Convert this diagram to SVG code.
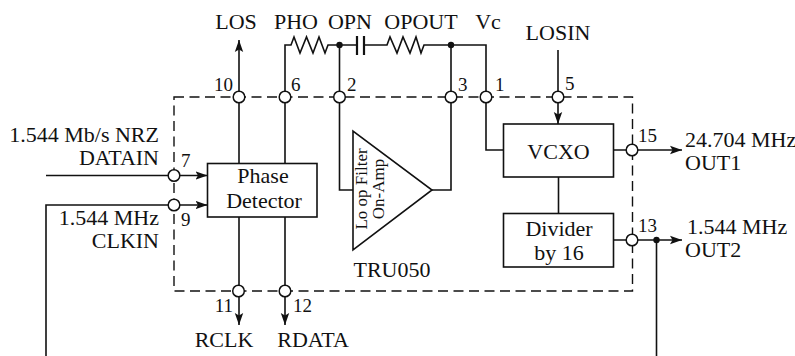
<svg xmlns="http://www.w3.org/2000/svg" width="795" height="356" viewBox="0 0 795 356">
<style>
text{font-family:"Liberation Serif","Times New Roman",serif;font-size:22px;fill:#111}
.n{font-size:19px}
.o{font-size:17px}
.e{text-anchor:end}.m{text-anchor:middle}
.w{fill:none;stroke:#111;stroke-width:1.6}
.b{fill:#fff;stroke:#111;stroke-width:1.6}
.p{fill:#fff;stroke:#111;stroke-width:1.5}
.d{fill:none;stroke:#111;stroke-width:1.4;stroke-dasharray:10 5.500}
.j{fill:#111}
</style>
<defs>
<marker id="a" markerUnits="userSpaceOnUse" markerWidth="12" markerHeight="10" refX="12" refY="5" orient="auto"><path d="M0 0.800L12 5L0 9.200L2.500 5Z" fill="#111"/></marker>
</defs>
<rect id="boundary" class="d" x="174" y="97" width="458.500" height="194"/>
<g id="connectors">
<path class="w" d="M239 97V40" marker-end="url(#a)"/>
<path class="w" d="M239 97V163.500M285 97V163.500M239 217V291M285 217V291"/>
<path class="w" d="M239 291V325" marker-end="url(#a)"/>
<path class="w" d="M285 291V325" marker-end="url(#a)"/>
<path class="w" d="M285 97V45H291L294 37L300 53L306.500 37L313 53L319 37L325 53L328 45H356.500M364.500 45H387L390 37L397 53L403 37L410 53L416 37L421 53L424 45H486V150H503.500"/>
<path class="w" d="M339.500 45V190H353M451 45V190H432"/>
<path class="w" d="M357 36V55M364 36V55" style="stroke-width:2.200"/>
<path class="w" d="M558 50V124" marker-end="url(#a)"/>
<path class="w" d="M46 175.500H207.500" marker-end="url(#a)"/>
<path class="w" d="M46 356V205H207.500" marker-end="url(#a)"/>
<path class="w" d="M613.500 150H682" marker-end="url(#a)"/>
<path class="w" d="M558.500 177V213.500"/>
<path class="w" d="M613.500 240H682" marker-end="url(#a)"/>
<path class="w" d="M656.500 240V356"/>
<circle class="j" cx="339.500" cy="45" r="3.200"/>
<circle class="j" cx="451" cy="45" r="3.200"/>
<circle class="j" cx="656.500" cy="240" r="3.200"/>
</g>
<g id="pin10"><circle class="p" cx="239" cy="97" r="5.800"/><text class="n e" x="233" y="91">10</text></g>
<g id="pin6"><circle class="p" cx="285" cy="97" r="5.800"/><text class="n" x="291" y="91">6</text></g>
<g id="pin2"><circle class="p" cx="339.500" cy="97" r="5.800"/><text class="n" x="347" y="91">2</text></g>
<g id="pin3"><circle class="p" cx="451" cy="97" r="5.800"/><text class="n" x="458" y="91">3</text></g>
<g id="pin1"><circle class="p" cx="486" cy="97" r="5.800"/><text class="n" x="495" y="91">1</text></g>
<g id="pin5"><circle class="p" cx="558" cy="97" r="5.800"/><text class="n" x="565" y="90">5</text></g>
<g id="pin7"><circle class="p" cx="174" cy="175.500" r="5.800"/><text class="n" x="181" y="167">7</text></g>
<g id="pin9"><circle class="p" cx="174" cy="205" r="5.800"/><text class="n" x="181" y="226">9</text></g>
<g id="pin11"><circle class="p" cx="238.500" cy="291" r="5.800"/><text class="n e" x="233" y="312">11</text></g>
<g id="pin12"><circle class="p" cx="285" cy="291" r="5.800"/><text class="n" x="293" y="312">12</text></g>
<g id="pin15"><circle class="p" cx="632" cy="150" r="5.800"/><text class="n" x="638" y="142">15</text></g>
<g id="pin13"><circle class="p" cx="632" cy="240" r="5.800"/><text class="n" x="638" y="232">13</text></g>
<g id="phase-detector"><rect class="b" x="207.500" y="163.500" width="109.500" height="53.500"/><text class="m" x="263" y="183">Phase</text><text class="m" x="264" y="208">Detector</text></g>
<g id="vcxo"><rect class="b" x="503.500" y="124" width="110" height="53"/><text class="m" x="558.500" y="159">VCXO</text></g>
<g id="divider"><rect class="b" x="503.500" y="213.500" width="110" height="53.500"/><text class="m" x="559" y="236">Divider</text><text class="m" x="559" y="260">by 16</text></g>
<g id="opamp"><path class="b" d="M353 131V250L432 190Z"/><text class="o m" transform="translate(367 189) rotate(-90)">Lo op Filter</text><text class="o m" transform="translate(384 189) rotate(-90)">On-Amp</text></g>
<g id="labels">
<text class="m" x="236" y="29">LOS</text>
<text class="m" x="296" y="29">PHO</text>
<text class="m" x="350" y="29">OPN</text>
<text class="m" x="421" y="29">OPOUT</text>
<text class="m" x="488" y="29">Vc</text>
<text class="m" x="558" y="40">LOSIN</text>
<text class="e" x="159" y="142">1.544 Mb/s NRZ</text>
<text class="e" x="159" y="165">DATAIN</text>
<text class="e" x="159" y="225">1.544 MHz</text>
<text class="e" x="159" y="248">CLKIN</text>
<text class="m" x="392" y="277">TRU050</text>
<text class="m" x="224" y="347">RCLK</text>
<text class="m" x="313" y="347">RDATA</text>
<text x="685" y="147">24.704 MHz</text>
<text x="685" y="170">OUT1</text>
<text x="687" y="234">1.544 MHz</text>
<text x="685" y="257">OUT2</text>
</g>
</svg>
